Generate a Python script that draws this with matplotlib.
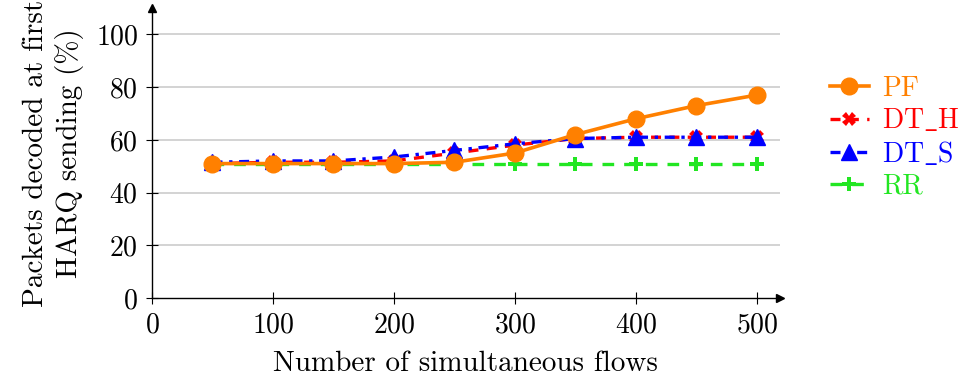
import matplotlib
matplotlib.use("Agg")
import matplotlib.pyplot as plt

plt.rcParams['font.family'] = ['cmr10', 'DejaVu Serif']
plt.rcParams['mathtext.fontset'] = 'cm'
plt.rcParams['axes.formatter.use_mathtext'] = True

flows = [50, 100, 150, 200, 250, 300, 350, 400, 450, 500]
pf = [51, 51, 51, 51, 51.5, 55, 62, 68, 73, 77]
dt_h = [51, 51.5, 51.5, 52, 55, 58, 60.5, 61, 61, 61]
dt_s = [51.5, 52, 52, 53.5, 56, 58.5, 60.5, 61, 61, 61]
rr = [51, 51, 51, 51, 51, 51, 51, 51, 51, 51]
xticks = [0, 100, 200, 300, 400, 500]
yticks = [0, 20, 40, 60, 80, 100]

fig = plt.figure(figsize=(9.78, 3.85), dpi=100)
ax = fig.add_axes([0.1554, 0.226, 0.642, 0.753])

c_pf, c_h, c_s, c_rr = '#FF8000', '#FF0000', '#0000FF', '#22E622'
FS = 20

ax.plot(flows, rr, color=c_rr, ls=(0, (3.5, 3)), lw=2.4, marker='P', ms=10, mew=0, label='RR', zorder=3)
ax.plot(flows, dt_h, color=c_h, ls=(0, (3, 2.5)), lw=2.4, marker='X', ms=10, mew=0, label=r'DT$\_$H', zorder=4)
ax.plot(flows, dt_s, color=c_s, ls=(0, (3, 2, 1, 2)), lw=2.4, marker='^', ms=11, label=r'DT$\_$S', zorder=5)
ax.plot(flows, pf, color=c_pf, ls='-', lw=2.6, marker='o', ms=12, label='PF', zorder=6)

ax.set_xlim(0, 519)
ax.set_ylim(0, 110)
ax.set_xticks(xticks)
ax.set_yticks(yticks)
ax.tick_params(direction='inout', length=8, width=0.8, labelsize=FS, pad=6)
for s in ['top', 'right']:
    ax.spines[s].set_visible(False)
ax.spines['left'].set_linewidth(1.0)
ax.spines['bottom'].set_linewidth(1.0)
for y in yticks[1:]:
    ax.axhline(y, color='#d3d3d3', lw=1.4, zorder=1)
ax.plot(1, 0, marker='>', color='k', ms=6, transform=ax.transAxes, clip_on=False)
ax.plot(0, 1, marker='^', color='k', ms=6, transform=ax.transAxes, clip_on=False)

ax.set_xlabel('Number of simultaneous flows', fontsize=21, labelpad=9)
ax.set_ylabel('Packets decoded at first\nHARQ sending (%)', fontsize=21, labelpad=8, linespacing=1.3)

handles, labels = ax.get_legend_handles_labels()
order = [3, 1, 2, 0]
leg = ax.legend([handles[i] for i in order], [labels[i] for i in order],
                loc='upper left', bbox_to_anchor=(820 / 978 - 0.01, 1 - 56 / 385),
                bbox_transform=fig.transFigure, frameon=False, borderpad=0.2,
                fontsize=FS, handlelength=1.4, handletextpad=0.5, labelspacing=0.2)
for t, c in zip(leg.get_texts(), [c_pf, c_h, c_s, c_rr]):
    t.set_color(c)

fig.savefig('out.png', dpi=100)
